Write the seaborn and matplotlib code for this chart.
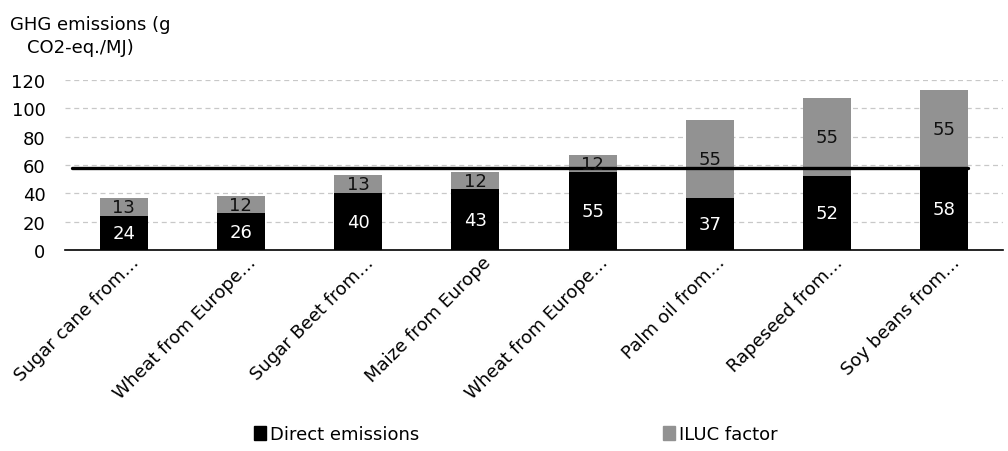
import matplotlib
matplotlib.use("Agg")
import matplotlib.pyplot as plt
import matplotlib.patches as mpatches
import matplotlib.transforms as mtransforms
import seaborn as sns
import pandas as pd

categories = ["Sugar cane from\u2026", "Wheat from Europe\u2026", "Sugar Beet from\u2026",
              "Maize from Europe", "Wheat from Europe\u2026", "Palm oil from\u2026",
              "Rapeseed from\u2026", "Soy beans from\u2026"]
direct = [24, 26, 40, 43, 55, 37, 52, 58]
iluc = [13, 12, 13, 12, 12, 55, 55, 55]
threshold = 58
yticks = [0, 20, 40, 60, 80, 100, 120]

sns.set_style("white")
plt.rcParams['font.family'] = ['DejaVu Sans']
plt.rcParams['text.color'] = 'black'
plt.rcParams['xtick.color'] = 'black'
plt.rcParams['ytick.color'] = 'black'

FS = 13

keys = [f"{i}" for i in range(len(categories))]
df = pd.DataFrame({"key": keys, "direct": direct, "iluc": iluc})
df["total"] = df["direct"] + df["iluc"]

fig = plt.figure(figsize=(10.08, 4.52), dpi=100)
ax = fig.add_axes([65/1008, 1 - 251/452, 938/1008, 170/452])

gray = "#929292"
sns.barplot(data=df, x="key", y="total", order=keys, color=gray, width=0.41,
            saturation=1, ax=ax, zorder=2, edgecolor="none", linewidth=0)
sns.barplot(data=df, x="key", y="direct", order=keys, color="black", width=0.41,
            saturation=1, ax=ax, zorder=3, edgecolor="none", linewidth=0)

for i, (d, g) in enumerate(zip(direct, iluc)):
    ax.text(i, d / 2, str(d), ha="center", va="center", color="white", fontsize=FS, zorder=5)
    ax.text(i, d + g / 2, str(g), ha="center", va="center", color="#111111", fontsize=FS, zorder=5)

ax.plot([-0.44, len(categories) - 0.8], [threshold, threshold], color="black", lw=2.4, zorder=4)

ax.set_ylim(0, 120)
ax.set_xlim(-0.5, len(categories) - 0.5)
ax.set_yticks(yticks)
ax.set_yticklabels([str(t) for t in yticks], fontsize=FS)
ax.yaxis.grid(True, ls=(0, (4, 3)), color="#c8c8c8", lw=0.9, zorder=0)
ax.set_axisbelow(True)
ax.set_xticks(range(len(categories)))
ax.set_xticklabels(categories, rotation=45, ha="right", rotation_mode="anchor", fontsize=FS)
ax.tick_params(axis="y", length=0, pad=14)
ax.tick_params(axis="x", length=0, pad=2)
offset = mtransforms.ScaledTranslation(6/100, 0, fig.dpi_scale_trans)
for lbl in ax.get_xticklabels():
    lbl.set_transform(lbl.get_transform() + offset)
for s in ["top", "right", "left"]:
    ax.spines[s].set_visible(False)
ax.spines["bottom"].set_color("black")
ax.spines["bottom"].set_linewidth(1.2)
ax.set_xlabel("")
ax.set_ylabel("")

fig.text(10/1008, 1 - 25/452, "GHG emissions (g", fontsize=FS, va="center", ha="left")
fig.text(27/1008, 1 - 48/452, "CO2-eq./MJ)", fontsize=FS, va="center", ha="left")

handles = [mpatches.Patch(color="black", label="Direct emissions"),
           mpatches.Patch(color=gray, label="ILUC factor")]
fig.legend(handles=handles, loc="center", bbox_to_anchor=(516/1008, 1 - 435/452), ncol=2,
           frameon=False, fontsize=FS, handlelength=0.65, handleheight=0.8,
           handletextpad=0.25, columnspacing=13.5)

fig.savefig("out.png", dpi=100)
